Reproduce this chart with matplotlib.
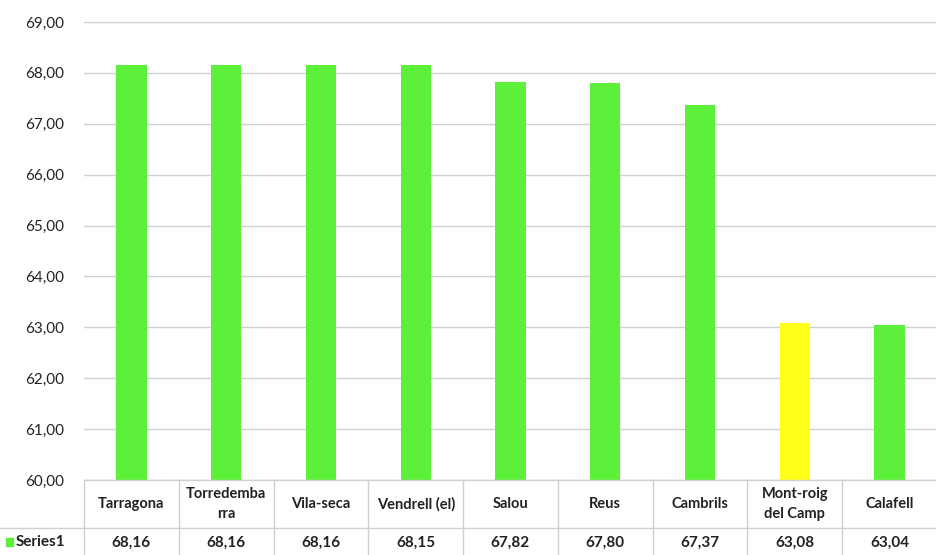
import matplotlib
matplotlib.use("Agg")
import matplotlib.pyplot as plt
from matplotlib.patches import Rectangle

categories = ["Tarragona", "Torredemba\nrra", "Vila-seca", "Vendrell (el)", "Salou",
              "Reus", "Cambrils", "Mont-roig\ndel Camp", "Calafell"]
values = [68.16, 68.16, 68.16, 68.15, 67.82, 67.80, 67.37, 63.08, 63.04]
value_labels = ["68,16", "68,16", "68,16", "68,15", "67,82", "67,80", "67,37", "63,08", "63,04"]
series_name = "Series1"
yticks = [60, 61, 62, 63, 64, 65, 66, 67, 68, 69]

green = "#5cf03a"
yellow = "#ffff1a"
colors = [green] * 7 + [yellow, green]

plt.rcParams['font.family'] = ['Lato', 'DejaVu Sans']

fig = plt.figure(figsize=(9.37, 5.55), dpi=100)
W, H = 937, 555
left, right, top, bottom = 84, 937, 22, 480
ax = fig.add_axes([left / W, 1 - bottom / H, (right - left) / W, (bottom - top) / H])

n = len(categories)
x = list(range(n))
ax.bar(x, [v - 60 for v in values], bottom=60, width=0.32, color=colors, zorder=3)
ax.set_xlim(-0.5, n - 0.5)
ax.set_ylim(60, 69)
ax.set_yticks(yticks)
ax.set_yticklabels([f"{t},00" for t in yticks], fontsize=11, color="#222222")
ax.tick_params(axis='y', length=0, pad=14)
ax.set_xticks([])
ax.grid(axis='y', color="#d0d0d0", linewidth=1, zorder=0)
for s in ax.spines.values():
    s.set_visible(False)

# data table below the axes
row_sep = 528
def fy(py):
    return 1 - py / H
def fx(px):
    return px / W
col_w = (right - left) / n
linecol = "#d0d0d0"
fig.add_artist(plt.Line2D([fx(left), fx(right)], [fy(bottom), fy(bottom)], color=linecol, lw=1))
fig.add_artist(plt.Line2D([0, fx(right)], [fy(row_sep), fy(row_sep)], color=linecol, lw=1))
for i in range(n + 1):
    xx = left + i * col_w
    fig.add_artist(plt.Line2D([fx(xx), fx(xx)], [fy(bottom), 0], color=linecol, lw=1))
for i, (c, vl) in enumerate(zip(categories, value_labels)):
    cx = left + (i + 0.5) * col_w
    fig.text(fx(cx), fy((bottom + row_sep) / 2), c, ha='center', va='center',
             fontsize=10.5, fontweight='bold', color="#222222", linespacing=1.5)
    fig.text(fx(cx), fy((row_sep + H) / 2 + 1), vl, ha='center', va='center',
             fontsize=11, fontweight='bold', color="#222222")
fig.add_artist(Rectangle((fx(6), fy(546)), 7 / W, 8 / H, color=green, transform=fig.transFigure))
fig.text(fx(16), fy((row_sep + H) / 2 + 1), series_name, ha='left', va='center',
         fontsize=11, fontweight='bold', color="#222222")

fig.savefig("out.png", dpi=100)
